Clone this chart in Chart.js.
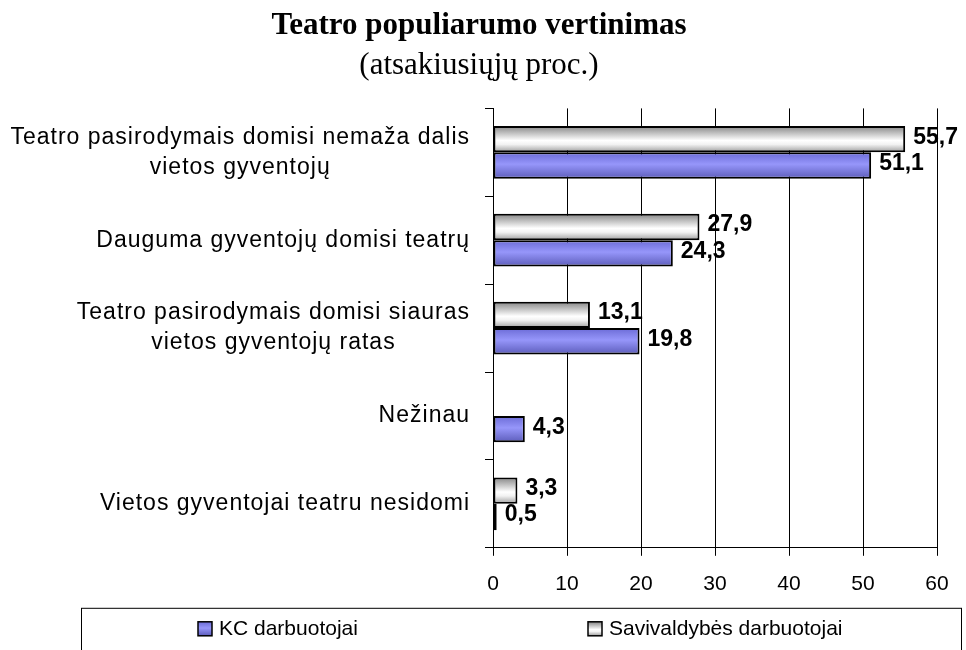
<!DOCTYPE html>
<html>
<head>
<meta charset="utf-8">
<script src="https://cdn.jsdelivr.net/npm/chart.js@4.4.0/dist/chart.umd.min.js"></script>
<style>
  html, body { margin: 0; padding: 0; background: #fff; }
</style>
</head>
<body>
<canvas id="chart" width="966" height="650"></canvas>
<script>
// data
var categories = [
  ['Teatro pasirodymais domisi nemaža dalis', 'vietos gyventojų'],
  'Dauguma gyventojų domisi teatrų',
  ['Teatro pasirodymais domisi siauras', 'vietos gyventojų ratas'],
  'Nežinau',
  'Vietos gyventojai teatru nesidomi'
];
var savivaldybesValues = [55.7, 27.9, 13.1, null, 3.3];
var kcValues = [51.1, 24.3, 19.8, 4.3, 0.5];
var xTickValues = [0, 10, 20, 30, 40, 50, 60];

var grayStops = [[0, '#858585'], [0.55, '#ffffff'], [0.7, '#f2f2f2'], [1, '#9c9c9c']];
var blueStops = [[0, '#6b6bd6'], [0.45, '#9696fa'], [1, '#5c5cba']];

function shade(ctx, top, bottom, stops) {
  var g = ctx.createLinearGradient(0, top, 0, bottom);
  stops.forEach(function (s) { g.addColorStop(s[0], s[1]); });
  return g;
}

// cylinder-like shading on each bar, from the bar's own geometry
var barShading = {
  id: 'barShading',
  beforeDatasetsDraw: function (chart) {
    chart.data.datasets.forEach(function (ds, i) {
      chart.getDatasetMeta(i).data.forEach(function (el) {
        if (!isFinite(el.x) || !isFinite(el.y)) return;
        var g = shade(chart.ctx, el.y - el.height / 2, el.y + el.height / 2, ds.stops);
        el.options = Object.assign({}, el.options, { backgroundColor: g });
      });
    });
  }
};

var valueLabels = {
  id: 'valueLabels',
  afterDatasetsDraw: function (chart) {
    var ctx = chart.ctx;
    ctx.save();
    ctx.font = 'bold 23px "Liberation Sans", Arial, sans-serif';
    ctx.fillStyle = '#000';
    ctx.textAlign = 'left';
    ctx.textBaseline = 'middle';
    chart.data.datasets.forEach(function (ds, i) {
      chart.getDatasetMeta(i).data.forEach(function (el, j) {
        var v = ds.data[j];
        if (v == null) return;
        ctx.fillText(v.toFixed(1).replace('.', ','), el.x + 8, el.y - 2);
      });
    });
    ctx.restore();
  }
};

// framed legend under the axis, KC first
var boxedLegend = {
  id: 'boxedLegend',
  afterDraw: function (chart) {
    var ctx = chart.ctx;
    var left = 81, top = chart.chartArea.bottom + 60, right = chart.width - 5;
    ctx.save();
    ctx.strokeStyle = '#000';
    ctx.lineWidth = 1;
    ctx.strokeRect(left + 0.5, top + 0.5, right - left, chart.height - top + 5);
    var cy = top + 21;
    var order = [[1, left + 117], [0, left + 507]];
    ctx.font = '21px "Liberation Sans", Arial, sans-serif';
    ctx.textBaseline = 'middle';
    ctx.textAlign = 'left';
    order.forEach(function (o) {
      var ds = chart.data.datasets[o[0]];
      var x = o[1];
      ctx.fillStyle = shade(ctx, cy - 7, cy + 7, ds.stops);
      ctx.fillRect(x, cy - 7, 14, 14);
      ctx.lineWidth = 1.5;
      ctx.strokeRect(x, cy - 7, 14, 14);
      ctx.fillStyle = '#000';
      ctx.fillText(ds.label, x + 21, cy);
    });
    ctx.restore();
  }
};

function spacedLabels(scale) {
  scale.width = 472;
  if (scale._spaced) return;
  scale._spaced = true;
  var base = Object.getPrototypeOf(scale).drawLabels;
  scale._computeLabelArea = function () { return undefined; };
  scale.drawLabels = function (area) {
    var c = this.ctx;
    this.getLabelItems(area).forEach(function (item) {
      if (Array.isArray(item.label) && !item.centred) {
        c.save();
        c.font = item.font.string;
        c.letterSpacing = '1px';
        var w = Math.max.apply(null, item.label.map(function (s) { return c.measureText(s).width; }));
        c.restore();
        var t = item.options.translation;
        item.options = Object.assign({}, item.options, { textAlign: 'center', translation: [t[0] - w / 2, t[1]] });
        item.centred = true;
      }
    });
    c.save();
    c.letterSpacing = '1px';
    base.call(this, area);
    c.restore();
  };
}

new Chart(document.getElementById('chart'), {
  type: 'bar',
  data: {
    labels: categories,
    datasets: [{
      label: 'Savivaldybės darbuotojai',
      data: savivaldybesValues,
      stops: grayStops,
      backgroundColor: '#e0e0e0',
      borderColor: '#000',
      borderWidth: 2,
      borderSkipped: false,
      categoryPercentage: 0.6,
      barPercentage: 1
    }, {
      label: 'KC darbuotojai',
      data: kcValues,
      stops: blueStops,
      backgroundColor: '#8a8aee',
      borderColor: '#000',
      borderWidth: 2,
      borderSkipped: false,
      categoryPercentage: 0.6,
      barPercentage: 1
    }]
  },
  options: {
    indexAxis: 'y',
    responsive: false,
    animation: false,
    devicePixelRatio: 1,
    layout: { padding: { left: 21, right: 29, top: 0, bottom: 37 } },
    scales: {
      x: {
        min: 0,
        max: 60,
        afterBuildTicks: function (s) { s.ticks = xTickValues.map(function (v) { return { value: v }; }); },
        grid: { color: '#000', lineWidth: 1, tickLength: 8, drawTicks: true },
        border: { color: '#000', width: 1 },
        ticks: { color: '#000', padding: 16, maxRotation: 0, font: { family: 'Liberation Sans', size: 21 } }
      },
      y: {
        afterFit: spacedLabels,
        grid: { drawOnChartArea: false, color: '#000', tickLength: 8, offset: true },
        border: { color: '#000', width: 1 },
        ticks: { color: '#000', padding: 15, autoSkip: false, font: { family: 'Liberation Sans', size: 23, lineHeight: 1.3 } }
      }
    },
    plugins: {
      legend: { display: false },
      tooltip: { enabled: false },
      title: {
        display: true,
        text: 'Teatro populiarumo vertinimas',
        color: '#000',
        font: { family: 'Liberation Serif', size: 31, weight: 'bold', lineHeight: 1.2 },
        padding: { top: 7, bottom: 2 }
      },
      subtitle: {
        display: true,
        text: '(atsakiusiųjų proc.)',
        color: '#000',
        font: { family: 'Liberation Serif', size: 31, weight: 'normal', lineHeight: 1.2 },
        padding: { top: 1, bottom: 24 }
      }
    }
  },
  plugins: [barShading, valueLabels, boxedLegend]
});
</script>
</body>
</html>
